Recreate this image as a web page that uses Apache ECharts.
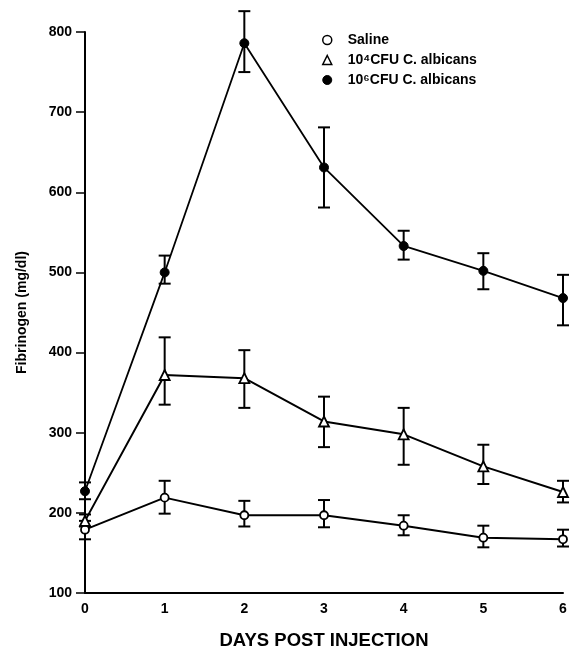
<!DOCTYPE html>
<html>
<head>
<meta charset="utf-8">
<script src="https://cdn.jsdelivr.net/npm/echarts@6/dist/echarts.min.js"></script>
<style>
  html, body { margin: 0; padding: 0; background: #fff; }
  #main { width: 572px; height: 657px; }
</style>
</head>
<body>
<div id="main"></div>
<script>
var days = [0, 1, 2, 3, 4, 5, 6];

// Saline
var salineMean = [179, 219, 197, 197, 184, 169, 167];
var salineLow  = [167, 199, 183, 182, 172, 157, 158];
var salineHigh = [190, 240, 215, 216, 197, 184, 179];

// 10^4 CFU C. albicans (open triangle)
var lowDoseMean = [190, 372, 368, 314, 298, 258, 226];
var lowDoseLow  = [183, 335, 331, 282, 260, 236, 213];
var lowDoseHigh = [198, 419, 403, 345, 331, 285, 240];

// 10^6 CFU C. albicans (filled circle)
var highDoseMean = [227, 500, 786, 631, 533, 502, 468];
var highDoseLow  = [217, 486, 750, 581, 516, 479, 434];
var highDoseHigh = [238, 521, 826, 681, 552, 524, 497];

var yTicks = [100, 200, 300, 400, 500, 600, 700, 800];

function pairs(ys) {
  return days.map(function (d, i) { return [d, ys[i]]; });
}
function errData(low, high) {
  return days.map(function (d, i) { return [d, low[i], high[i]]; });
}

function errorBar(params, api) {
  var x = api.value(0);
  var lo = api.coord([x, api.value(1)]);
  var hi = api.coord([x, api.value(2)]);
  var cap = 6;
  var st = { stroke: '#000', lineWidth: 2 };
  return {
    type: 'group',
    children: [
      { type: 'line', shape: { x1: lo[0], y1: lo[1], x2: hi[0], y2: hi[1] }, style: st },
      { type: 'line', shape: { x1: lo[0] - cap, y1: lo[1], x2: lo[0] + cap, y2: lo[1] }, style: st },
      { type: 'line', shape: { x1: hi[0] - cap, y1: hi[1], x2: hi[0] + cap, y2: hi[1] }, style: st }
    ]
  };
}

var names = ['Saline', '10\u2074CFU C. albicans', '10\u2076CFU C. albicans'];

var font = 'Liberation Sans, Arial, sans-serif';

var option = {
  backgroundColor: '#fff',
  animation: false,
  grid: { left: 85, right: 9, top: 32, bottom: 64 },
  legend: {
    orient: 'vertical',
    left: 317,
    top: 28,
    itemGap: 6,
    itemWidth: 9,
    itemHeight: 9,
    textStyle: { fontFamily: font, fontWeight: 'bold', fontSize: 14, color: '#000', padding: [0, 0, 0, 11] },
    data: [
      { name: names[0], icon: 'circle', itemStyle: { color: '#fff', borderColor: '#000', borderWidth: 1.5 } },
      { name: names[1], icon: 'triangle', itemStyle: { color: '#fff', borderColor: '#000', borderWidth: 1.5 } },
      { name: names[2], icon: 'circle', itemStyle: { color: '#000', borderColor: '#000', borderWidth: 1 } }
    ]
  },
  xAxis: {
    type: 'value',
    min: 0,
    max: 6,
    interval: 1,
    name: 'DAYS POST INJECTION',
    nameLocation: 'middle',
    nameGap: 38,
    nameTextStyle: { fontFamily: font, fontWeight: 'bold', fontSize: 18.5, color: '#000' },
    axisLine: { lineStyle: { color: '#000', width: 2 } },
    axisTick: { show: false },
    splitLine: { show: false },
    axisLabel: { fontFamily: font, fontWeight: 'bold', fontSize: 14, color: '#000', margin: 9 }
  },
  yAxis: {
    type: 'value',
    min: 100,
    max: 800,
    interval: 100,
    name: 'Fibrinogen (mg/dl)',
    nameLocation: 'middle',
    nameGap: 56,
    nameTextStyle: { fontFamily: font, fontWeight: 'bold', fontSize: 14, color: '#000' },
    axisLine: { show: true, lineStyle: { color: '#000', width: 2 } },
    axisTick: { show: true, length: 9, lineStyle: { color: '#000', width: 1.5 } },
    splitLine: { show: false },
    axisLabel: {
      fontFamily: font, fontWeight: 'bold', fontSize: 14, color: '#000', margin: 13,
      customValues: yTicks
    }
  },
  series: [
    { type: 'custom', renderItem: errorBar, data: errData(salineLow, salineHigh), z: 1, silent: true },
    { type: 'custom', renderItem: errorBar, data: errData(lowDoseLow, lowDoseHigh), z: 1, silent: true },
    { type: 'custom', renderItem: errorBar, data: errData(highDoseLow, highDoseHigh), z: 1, silent: true },
    {
      name: names[0], type: 'line', data: pairs(salineMean), z: 3,
      symbol: 'circle', symbolSize: 8, showAllSymbol: true,
      lineStyle: { color: '#000', width: 2 },
      itemStyle: { color: '#fff', borderColor: '#000', borderWidth: 1.8 }
    },
    {
      name: names[1], type: 'line', data: pairs(lowDoseMean), z: 3,
      symbol: 'triangle', symbolSize: 10, showAllSymbol: true,
      lineStyle: { color: '#000', width: 2 },
      itemStyle: { color: '#fff', borderColor: '#000', borderWidth: 1.8 }
    },
    {
      name: names[2], type: 'line', data: pairs(highDoseMean), z: 3,
      symbol: 'circle', symbolSize: 9, showAllSymbol: true,
      lineStyle: { color: '#000', width: 1.8 },
      itemStyle: { color: '#000', borderColor: '#000', borderWidth: 1 }
    }
  ]
};

var chart = echarts.init(document.getElementById('main'));
chart.setOption(option);
</script>
</body>
</html>
